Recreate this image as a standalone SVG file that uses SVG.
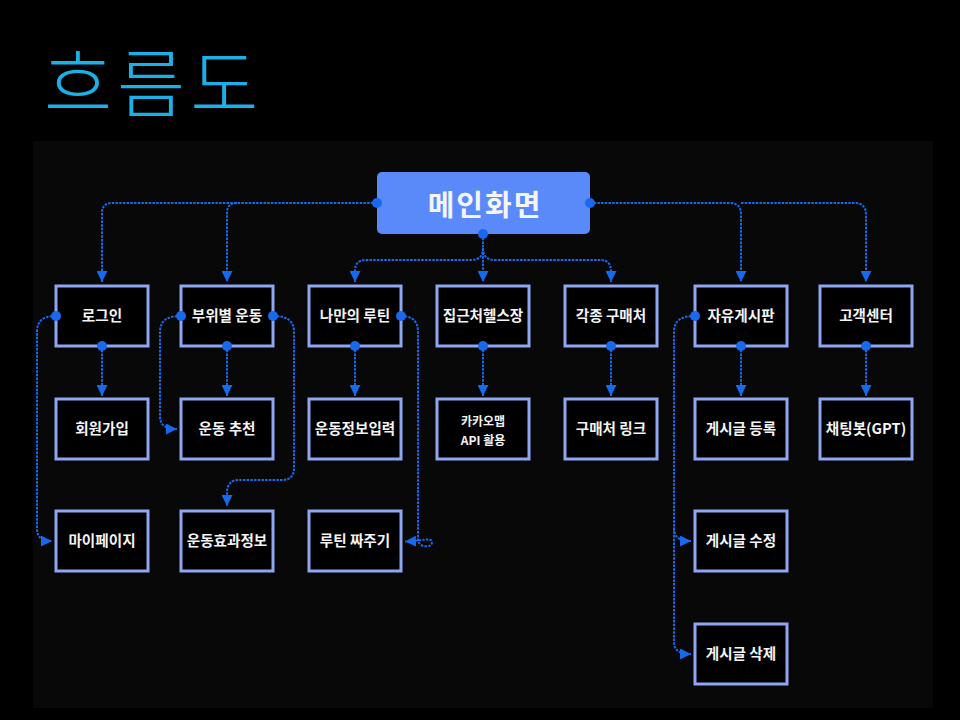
<svg xmlns="http://www.w3.org/2000/svg" width="960" height="720" viewBox="0 0 960 720">
<defs>
<style>
.box{fill:#000;stroke:#8FA6F2;stroke-width:3}
.t{font-family:"Noto Sans CJK KR","Noto Sans",sans-serif;font-size:14.6px;font-weight:700;fill:#F4F4F4;text-anchor:middle}
.ts{font-size:12px}
.c{fill:none;stroke:#1769EE;stroke-width:2;stroke-dasharray:2.5 1.2}
.a{marker-end:url(#arr)}
.dot{fill:#1769EE}
</style>
<marker id="arr" markerUnits="userSpaceOnUse" markerWidth="11" markerHeight="11" viewBox="0 0 10 10" refX="10" refY="5" orient="auto">
<path d="M0,0 L10,5 L0,10 z" fill="#1769EE"/>
</marker>
</defs>
<rect x="0" y="0" width="960" height="720" fill="#000"/>
<rect x="33" y="141" width="900" height="567" fill="#080808"/>
<text x="44" y="111" font-family="'Noto Sans CJK KR','Noto Sans',sans-serif" font-size="74" font-weight="300" letter-spacing="5" fill="#1BB0E8">흐름도</text>

<g id="connectors">
<path class="c a" d="M377,203 H112 Q102,203 102,213 V282"/>
<path class="c a" d="M237,203 Q227,203 227,213 V282"/>
<path class="c a" d="M590,203 H730 Q741,203 741,215 V282"/>
<path class="c a" d="M741,203 H855 Q866,203 866,215 V282"/>
<path class="c a" d="M483,234 V282"/>
<path class="c a" d="M483,248 Q483,260 471,260 H366 Q355,260 355,271 V282"/>
<path class="c a" d="M483,248 Q483,260 495,260 H600 Q611,260 611,271 V282"/>
<path class="c a" d="M102,346 V396"/>
<path class="c a" d="M227,346 V396"/>
<path class="c a" d="M355,346 V396"/>
<path class="c a" d="M483,346 V396"/>
<path class="c a" d="M611,346 V396"/>
<path class="c a" d="M741,346 V396"/>
<path class="c a" d="M866,346 V396"/>
<path class="c a" d="M56,316 C44,316 37,320 37,332 V528 C37,536 40,541 52,541"/>
<path class="c a" d="M181,316 C168,316 160,320 160,332 V416 C160,424 164,429 177,429"/>
<path class="c a" d="M273,316 C286,316 294,320 294,332 V468 C294,476 290,480 282,480 H238 C231,480 227,485 227,492 V506"/>
<path class="c a" d="M401,316 C411,316 418,320 418,332 V540 C418,547 432,549 432,542 C432,537 420,541 405,541.5"/>
<path class="c a" d="M695,316 C682,316 674,320 674,332 V642 C674,649 678,654 691,654"/>
<path class="c a" d="M674,528 C674,536 678,541 691,541"/>
</g>

<g id="main">
<rect x="377" y="172" width="213" height="62" rx="5" fill="#5A8AFA"/>
<text x="485" y="216" class="t" letter-spacing="2" style="font-size:29px">메인화면</text>
</g>

<g id="n-login"><rect class="box" x="56" y="286" width="92" height="60"/><text class="t" x="102" y="321">로그인</text></g>
<g id="n-body"><rect class="box" x="181" y="286" width="92" height="60"/><text class="t" x="227" y="321">부위별 운동</text></g>
<g id="n-routine"><rect class="box" x="309" y="286" width="92" height="60"/><text class="t" x="355" y="321">나만의 루틴</text></g>
<g id="n-gym"><rect class="box" x="437" y="286" width="92" height="60"/><text class="t" x="483" y="321">집근처헬스장</text></g>
<g id="n-shop"><rect class="box" x="565" y="286" width="92" height="60"/><text class="t" x="611" y="321">각종 구매처</text></g>
<g id="n-board"><rect class="box" x="695" y="286" width="92" height="60"/><text class="t" x="741" y="321">자유게시판</text></g>
<g id="n-cs"><rect class="box" x="820" y="286" width="92" height="60"/><text class="t" x="866" y="321">고객센터</text></g>

<g id="n-join"><rect class="box" x="56" y="399" width="92" height="60"/><text class="t" x="102" y="434">회원가입</text></g>
<g id="n-rec"><rect class="box" x="181" y="399" width="92" height="60"/><text class="t" x="227" y="434">운동 추천</text></g>
<g id="n-input"><rect class="box" x="309" y="399" width="92" height="60"/><text class="t" x="355" y="434">운동정보입력</text></g>
<g id="n-kakao"><rect class="box" x="437" y="399" width="92" height="60"/><text class="t ts" x="483" y="426">카카오맵</text><text class="t ts" x="483" y="445">API 활용</text></g>
<g id="n-link"><rect class="box" x="565" y="399" width="92" height="60"/><text class="t" x="611" y="434">구매처 링크</text></g>
<g id="n-post"><rect class="box" x="695" y="399" width="92" height="60"/><text class="t" x="741" y="434">게시글 등록</text></g>
<g id="n-chat"><rect class="box" x="820" y="399" width="92" height="60"/><text class="t" x="866" y="434">채팅봇(GPT)</text></g>

<g id="n-mypage"><rect class="box" x="56" y="511" width="92" height="60"/><text class="t" x="102" y="546">마이페이지</text></g>
<g id="n-effect"><rect class="box" x="181" y="511" width="92" height="60"/><text class="t" x="227" y="546">운동효과정보</text></g>
<g id="n-make"><rect class="box" x="309" y="511" width="92" height="60"/><text class="t" x="355" y="546">루틴 짜주기</text></g>
<g id="n-edit"><rect class="box" x="695" y="511" width="92" height="60"/><text class="t" x="741" y="546">게시글 수정</text></g>
<g id="n-del"><rect class="box" x="695" y="624" width="92" height="60"/><text class="t" x="741" y="659">게시글 삭제</text></g>

<g id="dots">
<circle class="dot" cx="377" cy="203" r="5"/>
<circle class="dot" cx="590" cy="203" r="5"/>
<circle class="dot" cx="483" cy="234" r="5"/>
<circle class="dot" cx="102" cy="346" r="5"/>
<circle class="dot" cx="227" cy="346" r="5"/>
<circle class="dot" cx="355" cy="346" r="5"/>
<circle class="dot" cx="483" cy="346" r="5"/>
<circle class="dot" cx="611" cy="346" r="5"/>
<circle class="dot" cx="741" cy="346" r="5"/>
<circle class="dot" cx="866" cy="346" r="5"/>
<circle class="dot" cx="56" cy="316" r="5"/>
<circle class="dot" cx="181" cy="316" r="5"/>
<circle class="dot" cx="273" cy="316" r="5"/>
<circle class="dot" cx="401" cy="316" r="5"/>
<circle class="dot" cx="695" cy="316" r="5"/>
</g>
</svg>
